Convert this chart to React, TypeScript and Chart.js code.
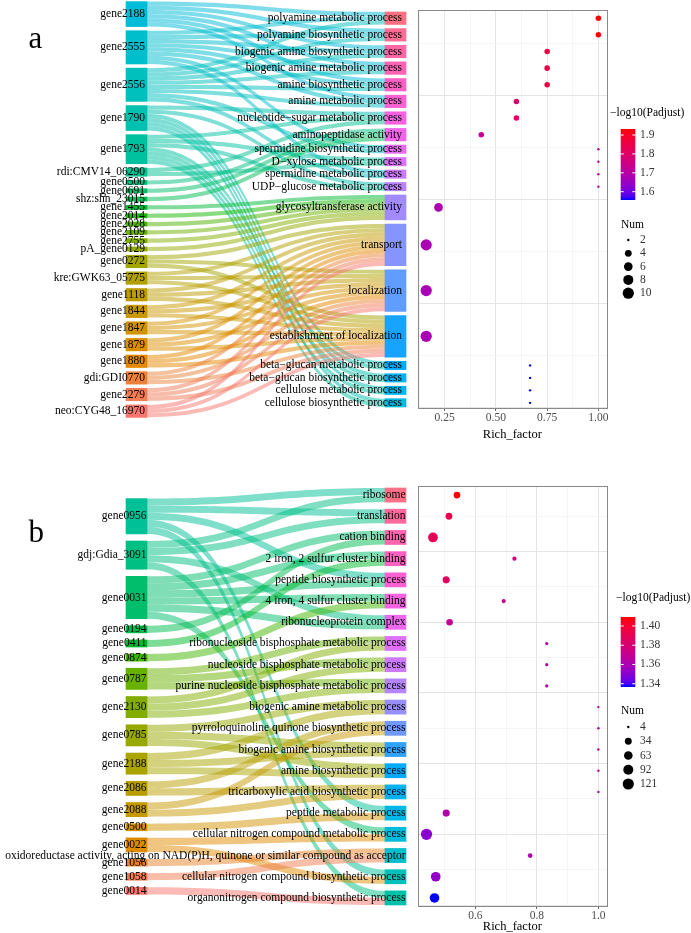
import React, { useEffect, useRef } from 'react';
import { Chart, registerables } from 'chart.js';

Chart.register(...registerables);

const SERIF = '"Liberation Serif", "Times New Roman", Times, serif';

/* ===================== DATA : panel a ===================== */
const A_GENES = [
  'gene2188', 'gene2555', 'gene2556', 'gene1790', 'gene1793', 'rdi:CMV14_06290', 'gene0500', 'gene0691',
  'shz:shn_23015', 'gene1455', 'gene2014', 'gene2028', 'gene2109', 'gene2755', 'pA_gene0129', 'gene0272',
  'kre:GWK63_05775', 'gene1118', 'gene1844', 'gene1847', 'gene1879', 'gene1880', 'gdi:GDI0770', 'gene2279',
  'neo:CYG48_16970',
];
const A_TERMS = [
  'polyamine metabolic process', 'polyamine biosynthetic process', 'biogenic amine biosynthetic process',
  'biogenic amine metabolic process', 'amine biosynthetic process', 'amine metabolic process',
  'nucleotide\u2212sugar metabolic process', 'aminopeptidase activity', 'spermidine biosynthetic process',
  'D\u2212xylose metabolic process', 'spermidine metabolic process', 'UDP\u2212glucose metabolic process',
  'glycosyltransferase activity', 'transport', 'localization', 'establishment of localization',
  'beta\u2212glucan metabolic process', 'beta\u2212glucan biosynthetic process', 'cellulose metabolic process',
  'cellulose biosynthetic process',
];
// term indices linked from each gene (same order as A_GENES)
const A_GENE_TERMS = [
  [0, 1, 2, 3, 4, 5],
  [0, 1, 2, 3, 4, 5, 8, 10],
  [0, 1, 2, 3, 4, 5, 8, 10],
  [6, 11, 16, 17, 18, 19],
  [6, 9, 11, 16, 17, 18, 19],
  [6, 9],
  [7], [7], [7],
  [12], [12], [12], [12], [12], [12],
  [13, 14, 15], [13, 14, 15], [13, 14, 15], [13, 14, 15], [13, 14, 15],
  [13, 14, 15], [13, 14, 15], [13, 14, 15], [13, 14, 15], [13, 14, 15],
];
const A_RICH = [1, 1, 0.75, 0.75, 0.75, 0.6, 0.6, 0.4286, 1, 1, 1, 1, 0.22, 0.16, 0.16, 0.16, 0.6667, 0.6667, 0.6667, 0.6667];
const A_NUM = [3, 3, 3, 3, 3, 3, 3, 3, 2, 2, 2, 2, 6, 10, 10, 10, 2, 2, 2, 2];
const A_LOGP = [1.932, 1.932, 1.85, 1.85, 1.85, 1.8, 1.8, 1.73, 1.7, 1.7, 1.7, 1.7, 1.68, 1.675, 1.675, 1.675, 1.556, 1.556, 1.556, 1.556];
const A_X_BREAKS = [0.25, 0.5, 0.75, 1.0];
const A_X_LABELS = ['0.25', '0.50', '0.75', '1.00'];
const A_C_BREAKS = [1.6, 1.7, 1.8, 1.9];
const A_C_LABELS = ['1.6', '1.7', '1.8', '1.9'];
const A_S_BREAKS = [2, 4, 6, 8, 10];
const A_S_LABELS = ['2', '4', '6', '8', '10'];

/* ===================== DATA : panel b ===================== */
const B_GENES = [
  'gene0956', 'gdj:Gdia_3091', 'gene0031', 'gene0194', 'gene0411', 'gene0874', 'gene0787', 'gene2130',
  'gene0785', 'gene2188', 'gene2086', 'gene2088', 'gene0500', 'gene0022', 'gene1056', 'gene1058', 'gene0014',
];
const B_TERMS = [
  'ribosome', 'translation', 'cation binding', '2 iron, 2 sulfur cluster binding', 'peptide biosynthetic process',
  '4 iron, 4 sulfur cluster binding', 'ribonucleoprotein complex', 'ribonucleoside bisphosphate metabolic process',
  'nucleoside bisphosphate metabolic process', 'purine nucleoside bisphosphate metabolic process',
  'biogenic amine metabolic process', 'pyrroloquinoline quinone biosynthetic process',
  'biogenic amine biosynthetic process', 'amine biosynthetic process', 'tricarboxylic acid biosynthetic process',
  'peptide metabolic process', 'cellular nitrogen compound metabolic process',
  'oxidoreductase activity, acting on NAD(P)H, quinone or similar compound as acceptor',
  'cellular nitrogen compound biosynthetic process', 'organonitrogen compound biosynthetic process',
];
const B_GENE_TERMS = [
  [0, 1, 4, 15, 18],
  [0, 1, 6, 19],
  [2, 3, 4, 5, 6, 16],
  [2], [3], [5],
  [7, 8, 9], [7, 8, 9],
  [10, 12, 13], [10, 12, 13],
  [11, 14], [11, 14],
  [15],
  [16, 18],
  [17], [17],
  [19],
];
const B_RICH = [0.54, 0.514, 0.462, 0.727, 0.505, 0.692, 0.516, 0.832, 0.832, 0.832, 1, 1, 1, 1, 1, 0.505, 0.441, 0.778, 0.471, 0.467];
const B_NUM = [32, 33, 85, 9, 38, 9, 30, 5, 5, 5, 4, 4, 4, 4, 4, 38, 121, 12, 84, 82];
const B_LOGP = [1.409, 1.391, 1.389, 1.377, 1.386, 1.372, 1.37, 1.364, 1.364, 1.364, 1.363, 1.363, 1.363, 1.363, 1.363, 1.362, 1.351, 1.361, 1.353, 1.3366];
const B_X_BREAKS = [0.6, 0.8, 1.0];
const B_X_LABELS = ['0.6', '0.8', '1.0'];
const B_C_BREAKS = [1.34, 1.36, 1.38, 1.4];
const B_C_LABELS = ['1.34', '1.36', '1.38', '1.40'];
const B_S_BREAKS = [4, 34, 63, 92, 121];
const B_S_LABELS = ['4', '34', '63', '92', '121'];

/* ===================== layout / style ===================== */
const STYLE_A = {
  height: 470, plotTop: 10, xAxisH: 62, yMin: -0.24, yMax: 95.48,
  geneX: 136.5, termX: 395.5, nodeW: 21, geneRight: 145, termRight: 402,
  letter: 'a', letterY: 47.7,
  xMin: 0.118, xMax: 1.042, xStep: 0.125, xMajor: 0.25, yStep: 12.5, yMajor: 25,
  cMin: 1.556, cMax: 1.932, sMin: 2, sMax: 10, xTitlePad: 29,
  legTitleX: 198, legTitleY: 113, cbarTop: 129, cbarBottom: 200, numY: 225, sizeY0: 240, sizeDy: 13.3,
};
const STYLE_B = {
  height: 463, plotTop: 16, xAxisH: 27, yMin: -0.14, yMax: 59.28,
  geneX: 136.5, termX: 395.5, nodeW: 21, geneRight: 146.5, termRight: 405.5,
  letter: 'b', letterY: 71.7,
  xMin: 0.412, xMax: 1.028, xStep: 0.1, xMajor: 0.2, yStep: 5, yMajor: 10,
  cMin: 1.3366, cMax: 1.4093, sMin: 4, sMax: 121, xTitlePad: 0,
  legTitleX: 204, legTitleY: 128, cbarTop: 147, cbarBottom: 217, numY: 241, sizeY0: 257, sizeDy: 14.25,
};

/* ===================== colour helpers ===================== */
const WX = 0.95047, WY = 1.0, WZ = 1.08883;
function toLin(c: number) { c /= 255; return c <= 0.04045 ? c / 12.92 : Math.pow((c + 0.055) / 1.055, 2.4); }
function fromLin(c: number) {
  c = Math.max(0, Math.min(1, c));
  return Math.round(255 * (c <= 0.0031308 ? 12.92 * c : 1.055 * Math.pow(c, 1 / 2.4) - 0.055));
}
function xyzToRgb(X: number, Y: number, Z: number) {
  return [
    fromLin(3.2406 * X - 1.5372 * Y - 0.4986 * Z),
    fromLin(-0.9689 * X + 1.8758 * Y + 0.0415 * Z),
    fromLin(0.0557 * X - 0.204 * Y + 1.057 * Z),
  ];
}
function rgbToLab(r: number, g: number, b: number) {
  const R = toLin(r), G = toLin(g), B = toLin(b);
  const X = 0.4124 * R + 0.3576 * G + 0.1805 * B;
  const Y = 0.2126 * R + 0.7152 * G + 0.0722 * B;
  const Z = 0.0193 * R + 0.1192 * G + 0.9505 * B;
  const f = (t: number) => (t > 0.008856 ? Math.cbrt(t) : 7.787 * t + 16 / 116);
  const fx = f(X / WX), fy = f(Y / WY), fz = f(Z / WZ);
  return [116 * fy - 16, 500 * (fx - fy), 200 * (fy - fz)];
}
function labToRgb(L: number, a: number, b: number) {
  const fy = (L + 16) / 116, fx = fy + a / 500, fz = fy - b / 200;
  const inv = (t: number) => (t * t * t > 0.008856 ? t * t * t : (t - 16 / 116) / 7.787);
  return xyzToRgb(WX * inv(fx), WY * inv(fy), WZ * inv(fz));
}
function hclRgb(h: number, c = 100, l = 65) {
  const hr = (h * Math.PI) / 180;
  const U = c * Math.cos(hr), V = c * Math.sin(hr);
  const Xn = 95.047, Yn = 100, Zn = 108.883;
  const den = Xn + 15 * Yn + 3 * Zn;
  const un = (4 * Xn) / den, vn = (9 * Yn) / den;
  const Y = l > 8 ? Yn * Math.pow((l + 16) / 116, 3) : (Yn * l) / 903.3;
  const up = U / (13 * l) + un, vp = V / (13 * l) + vn;
  const X = (Y * 9 * up) / (4 * vp);
  const Z = (Y * (12 - 3 * up - 20 * vp)) / (4 * vp);
  return xyzToRgb(X / 100, Y / 100, Z / 100);
}
const rgba = (c: number[], a = 1) => `rgba(${c[0]},${c[1]},${c[2]},${a})`;
const LAB_LOW = rgbToLab(0, 0, 255);
const LAB_HIGH = rgbToLab(255, 0, 0);
function blueRed(t: number) {
  t = Math.max(0, Math.min(1, t));
  const m = [0, 1, 2].map((i) => LAB_LOW[i] + (LAB_HIGH[i] - LAB_LOW[i]) * t);
  return rgba(labToRgb(m[0], m[1], m[2]));
}

/* ===================== panel model ===================== */
function buildPanel(d: any, style: any) {
  const G = d.genes.length, T = d.terms.length;
  const counts = new Array(T).fill(0);
  d.geneTerms.forEach((ts: number[]) => ts.forEach((t) => counts[t]++));
  const total = counts.reduce((a: number, b: number) => a + b, 0);
  const R = total + (T - 1);
  const L = total + (G - 1);
  const termTop: number[] = [], termBot: number[] = [];
  let y = R;
  counts.forEach((c: number, i: number) => { termTop[i] = y; termBot[i] = y - c; y -= c + 1; });
  const geneTop: number[] = [], geneBot: number[] = [];
  y = (R + L) / 2;
  d.geneTerms.forEach((ts: number[], g: number) => { geneTop[g] = y; geneBot[g] = y - ts.length; y -= ts.length + 1; });
  const links: any[] = [];
  d.geneTerms.forEach((ts: number[], g: number) => {
    [...ts].sort((a, b) => a - b).forEach((t, k) => links.push({ g, t, s0: geneTop[g] - k, t0: 0 }));
  });
  const fill = new Array(T).fill(0);
  [...links].sort((a, b) => a.t - b.t || a.g - b.g).forEach((lk) => { lk.t0 = termTop[lk.t] - fill[lk.t]++; });
  const n = G + T;
  const geneColor = d.genes.map((_: string, g: number) => hclRgb(15 + (360 * (G - 1 - g)) / n));
  const termColor = d.terms.map((_: string, t: number) => hclRgb(15 + (360 * (G + T - 1 - t)) / n));
  const termCenter = termTop.map((tp, i) => tp - counts[i] / 2);
  return { ...d, style, counts, termTop, termBot, geneTop, geneBot, termCenter, links, geneColor, termColor };
}

const PANEL_A = buildPanel({
  genes: A_GENES, terms: A_TERMS, geneTerms: A_GENE_TERMS, rich: A_RICH, num: A_NUM, logp: A_LOGP,
  xBreaks: A_X_BREAKS, xLabels: A_X_LABELS, cBreaks: A_C_BREAKS, cLabels: A_C_LABELS,
  sBreaks: A_S_BREAKS, sLabels: A_S_LABELS,
}, STYLE_A);
const PANEL_B = buildPanel({
  genes: B_GENES, terms: B_TERMS, geneTerms: B_GENE_TERMS, rich: B_RICH, num: B_NUM, logp: B_LOGP,
  xBreaks: B_X_BREAKS, xLabels: B_X_LABELS, cBreaks: B_C_BREAKS, cLabels: B_C_LABELS,
  sBreaks: B_S_BREAKS, sLabels: B_S_LABELS,
}, STYLE_B);

/* ===================== sankey chart ===================== */
function makeSankey(canvas: HTMLCanvasElement, P: any) {
  const S = P.style;
  const nodes = [
    ...P.genes.map((_: string, g: number) => ({ x: S.geneX, y: [P.geneBot[g], P.geneTop[g]] })),
    ...P.terms.map((_: string, t: number) => ({ x: S.termX, y: [P.termBot[t], P.termTop[t]] })),
  ];
  const colors = [...P.geneColor.map((c: number[]) => rgba(c)), ...P.termColor.map((c: number[]) => rgba(c))];
  const plugin = {
    id: 'sankeyFlows',
    beforeDatasetsDraw(chart: any) {
      const { ctx } = chart;
      const { x, y } = chart.scales;
      const xs = x.getPixelForValue(S.geneX + S.nodeW / 2);
      const xt = x.getPixelForValue(S.termX - S.nodeW / 2);
      const xm = (xs + xt) / 2;
      ctx.save();
      for (const lk of P.links) {
        const a0 = y.getPixelForValue(lk.s0), a1 = y.getPixelForValue(lk.s0 - 1);
        const b0 = y.getPixelForValue(lk.t0), b1 = y.getPixelForValue(lk.t0 - 1);
        ctx.beginPath();
        ctx.moveTo(xs, a0);
        ctx.bezierCurveTo(xm, a0, xm, b0, xt, b0);
        ctx.lineTo(xt, b1);
        ctx.bezierCurveTo(xm, b1, xm, a1, xs, a1);
        ctx.closePath();
        ctx.fillStyle = rgba(P.geneColor[lk.g], 0.5);
        ctx.fill();
      }
      ctx.restore();
    },
    afterDatasetsDraw(chart: any) {
      const { ctx } = chart;
      const { x, y } = chart.scales;
      ctx.save();
      ctx.fillStyle = '#000';
      ctx.font = `11.5px ${SERIF}`;
      ctx.textAlign = 'right';
      ctx.textBaseline = 'middle';
      P.genes.forEach((name: string, g: number) => {
        ctx.fillText(name, x.getPixelForValue(S.geneRight), y.getPixelForValue((P.geneTop[g] + P.geneBot[g]) / 2));
      });
      P.terms.forEach((name: string, t: number) => {
        ctx.fillText(name, x.getPixelForValue(S.termRight), y.getPixelForValue(P.termCenter[t]));
      });
      ctx.textAlign = 'left';
      ctx.textBaseline = 'alphabetic';
      ctx.font = `31px ${SERIF}`;
      ctx.fillText(S.letter, 28.5, S.letterY);
      ctx.restore();
    },
  };
  return new Chart(canvas, {
    type: 'bar',
    data: {
      datasets: [{
        data: nodes as any, backgroundColor: colors, borderWidth: 0, barThickness: S.nodeW, clip: false as any,
      }],
    },
    options: {
      animation: false, responsive: false, events: [],
      layout: { padding: { top: S.plotTop, bottom: S.xAxisH, left: 0, right: 0 } },
      scales: {
        x: { type: 'linear', min: 0, max: 412, offset: false, display: false },
        y: { type: 'linear', min: S.yMin, max: S.yMax, display: false },
      },
      plugins: { legend: { display: false }, tooltip: { enabled: false } },
    } as any,
    plugins: [plugin],
  });
}

/* ===================== bubble chart ===================== */
function makeBubble(canvas: HTMLCanvasElement, P: any) {
  const S = P.style;
  const diam = (n: number) => 2.4 + 8.8 * Math.sqrt(Math.max(0, (n - S.sMin) / (S.sMax - S.sMin)));
  const data = P.terms.map((_: string, t: number) => ({ x: P.rich[t], y: P.termCenter[t], r: diam(P.num[t]) / 2 }));
  const colors = P.logp.map((v: number) => blueRed((v - S.cMin) / (S.cMax - S.cMin)));
  const near = (v: number, step: number) => Math.abs(v / step - Math.round(v / step)) < 1e-6;
  const xLabel = (v: number) => {
    const i = P.xBreaks.findIndex((b: number) => Math.abs(b - v) < 1e-6);
    return i >= 0 ? P.xLabels[i] : '';
  };
  const plugin = {
    id: 'frameLegend',
    afterDraw(chart: any) {
      const { ctx, chartArea: ca } = chart;
      ctx.save();
      ctx.strokeStyle = '#8a8a8a';
      ctx.lineWidth = 1;
      ctx.strokeRect(Math.round(ca.left) + 0.5, Math.round(ca.top) + 0.5, Math.round(ca.right - ca.left), Math.round(ca.bottom - ca.top));
      // colour legend
      ctx.fillStyle = '#000';
      ctx.font = `11.5px ${SERIF}`;
      ctx.textAlign = 'left';
      ctx.textBaseline = 'middle';
      ctx.fillText('\u2212log10(Padjust)', S.legTitleX, S.legTitleY);
      const bx = 208.7, bw = 14.6;
      const grad = ctx.createLinearGradient(0, S.cbarBottom, 0, S.cbarTop);
      for (let i = 0; i <= 20; i++) grad.addColorStop(i / 20, blueRed(i / 20));
      ctx.fillStyle = grad;
      ctx.fillRect(bx, S.cbarTop, bw, S.cbarBottom - S.cbarTop);
      P.cBreaks.forEach((v: number, i: number) => {
        const yy = S.cbarBottom - ((v - S.cMin) / (S.cMax - S.cMin)) * (S.cbarBottom - S.cbarTop);
        ctx.strokeStyle = '#fff';
        ctx.beginPath();
        ctx.moveTo(bx, yy); ctx.lineTo(bx + 3, yy);
        ctx.moveTo(bx + bw - 3, yy); ctx.lineTo(bx + bw, yy);
        ctx.stroke();
        ctx.fillStyle = '#333';
        ctx.fillText(P.cLabels[i], 228, yy);
      });
      // size legend
      ctx.fillStyle = '#000';
      ctx.fillText('Num', 209, S.numY);
      P.sBreaks.forEach((v: number, i: number) => {
        const yy = S.sizeY0 + i * S.sizeDy;
        ctx.fillStyle = '#000';
        ctx.beginPath();
        ctx.arc(216.3, yy, diam(v) / 2, 0, Math.PI * 2);
        ctx.fill();
        ctx.fillStyle = '#333';
        ctx.fillText(P.sLabels[i], 228, yy);
      });
      ctx.restore();
    },
  };
  return new Chart(canvas, {
    type: 'bubble',
    data: {
      datasets: [{
        data, backgroundColor: colors, borderWidth: 0, hoverBorderWidth: 0, hoverRadius: 0, clip: false as any,
      }],
    },
    options: {
      animation: false, responsive: false, events: [],
      layout: { padding: { top: S.plotTop, bottom: 0, left: 3, right: 84 } },
      scales: {
        x: {
          type: 'linear', min: S.xMin, max: S.xMax,
          afterFit: (s: any) => { s.height = S.xAxisH; },
          border: { display: false },
          grid: {
            color: (c: any) => (near(c.tick.value, S.xMajor) ? '#e4e4e4' : '#f1f1f1'),
            lineWidth: (c: any) => (near(c.tick.value, S.xMajor) ? 1 : 0.7),
            drawTicks: true, tickLength: 3,
            tickColor: (c: any) => (near(c.tick.value, S.xMajor) ? '#666' : 'rgba(0,0,0,0)'),
            tickWidth: 1,
          },
          ticks: {
            stepSize: S.xStep, includeBounds: false, autoSkip: false, maxRotation: 0, padding: 0,
            color: '#4d4d4d', font: { family: SERIF, size: 11.5 },
            callback: (v: any) => xLabel(Number(v)),
          },
          title: {
            display: true, text: 'Rich_factor', color: '#000',
            font: { family: SERIF, size: 12.5, lineHeight: 0.96 },
            padding: { top: 0, bottom: S.xTitlePad },
          },
        },
        y: {
          type: 'linear', min: S.yMin, max: S.yMax,
          afterFit: (s: any) => { s.width = 0; },
          border: { display: false },
          ticks: { display: false, stepSize: S.yStep, includeBounds: false },
          grid: {
            drawTicks: false,
            color: (c: any) => (near(c.tick.value, S.yMajor) ? '#e4e4e4' : '#f1f1f1'),
            lineWidth: (c: any) => (near(c.tick.value, S.yMajor) ? 1 : 0.7),
          },
        },
      },
      plugins: { legend: { display: false }, tooltip: { enabled: false } },
    } as any,
    plugins: [plugin],
  });
}

/* ===================== App ===================== */
export default function App() {
  const aS = useRef<HTMLCanvasElement>(null);
  const aB = useRef<HTMLCanvasElement>(null);
  const bS = useRef<HTMLCanvasElement>(null);
  const bB = useRef<HTMLCanvasElement>(null);
  useEffect(() => {
    const charts = [
      makeSankey(aS.current!, PANEL_A),
      makeBubble(aB.current!, PANEL_A),
      makeSankey(bS.current!, PANEL_B),
      makeBubble(bB.current!, PANEL_B),
    ];
    return () => charts.forEach((c) => c.destroy());
  }, []);
  const abs = (left: number, top: number, w: number, h: number): React.CSSProperties => ({
    position: 'absolute', left, top, width: w, height: h, display: 'block',
  });
  return (
    <div style={{ position: 'absolute', left: 0, top: 0, width: 691, height: 933, background: '#fff', overflow: 'hidden' }}>
      <canvas ref={aS} width={412} height={470} style={abs(0, 0, 412, 470)} />
      <canvas ref={aB} width={279} height={470} style={abs(412, 0, 279, 470)} />
      <canvas ref={bS} width={412} height={463} style={abs(0, 470, 412, 463)} />
      <canvas ref={bB} width={279} height={463} style={abs(412, 470, 279, 463)} />
    </div>
  );
}
